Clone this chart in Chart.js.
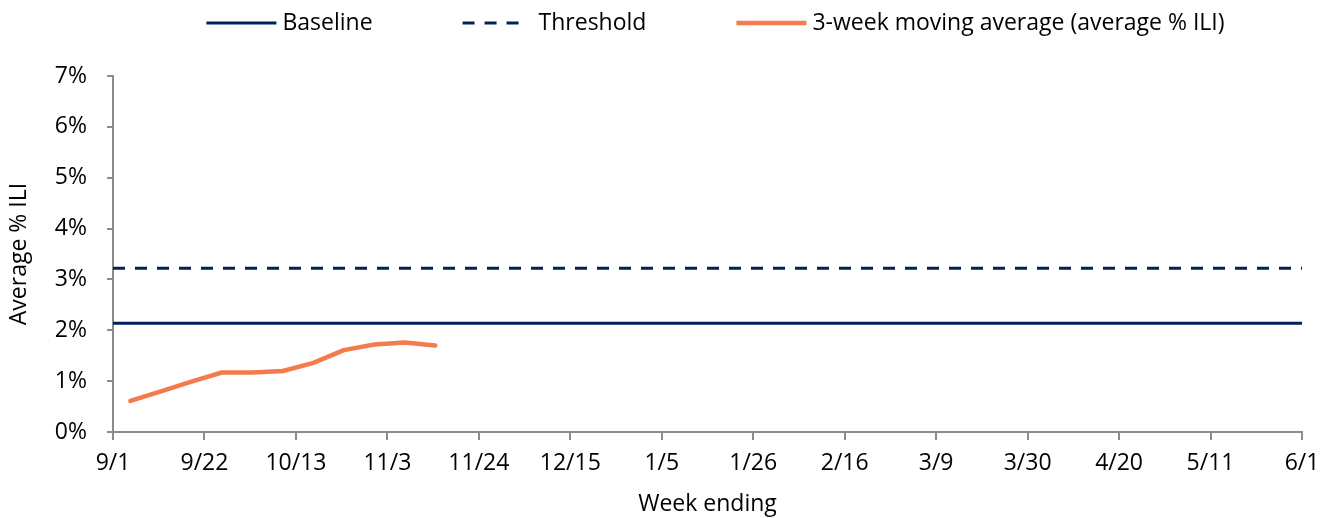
<!DOCTYPE html>
<html>
<head>
<meta charset="utf-8">
<script src="https://cdn.jsdelivr.net/npm/chart.js@4.4.1/dist/chart.umd.min.js"></script>
<style>
  html, body { margin: 0; padding: 0; background: #fff; }
  #wrap { width: 1333px; height: 518px; position: relative; }
</style>
</head>
<body>
<div id="wrap"><canvas id="iliChart"></canvas></div>
<script>
// x-axis tick labels, every 3 weeks from 9/1
const tickLabels = ['9/1', '9/22', '10/13', '11/3', '11/24', '12/15', '1/5',
  '1/26', '2/16', '3/9', '3/30', '4/20', '5/11', '6/1'];

// weekly points for the moving average
const weekEnding = ['9/5', '9/12', '9/19', '9/26', '10/3', '10/10', '10/17',
  '10/24', '10/31', '11/7', '11/14'];
const movingAvg = [0.61, 0.80, 0.99, 1.17, 1.17, 1.20, 1.36, 1.61, 1.72, 1.76, 1.70];

const baseline = 2.14;
const threshold = 3.22;

const NAVY = '#002060';
const ORANGE = '#F47B4B';
const AXIS = '#8c8c8c';
const FONT = 'Open Sans';
const FSIZE = 23;

// days since 9/1 (season runs Sep -> Jun)
const monthStart = { 9: 0, 10: 30, 11: 61, 12: 91, 1: 122, 2: 153, 3: 181, 4: 212, 5: 242, 6: 273 };
function dayOffset(md) {
  const [m, d] = md.split('/').map(Number);
  return monthStart[m] + d - 1;
}

const xMax = dayOffset(tickLabels[tickLabels.length - 1]);

// simple legend drawn across the top: line sample + label
const topLegend = {
  id: 'topLegend',
  afterDraw(chart) {
    const ctx = chart.ctx;
    const lineLen = 70, gap = 6, space = 90;
    ctx.save();
    ctx.font = `${FSIZE}px "${FONT}"`;
    ctx.textBaseline = 'middle';
    const items = chart.data.datasets.map(ds => ({
      text: ds.label,
      color: ds.borderColor,
      width: ds.borderWidth,
      dash: ds.borderDash || [],
      w: ctx.measureText(ds.label).width
    }));
    let total = 0;
    items.forEach((it, i) => { total += lineLen + gap + it.w + (i ? space : 0); });
    const area = chart.chartArea;
    let x = (area.left + area.right) / 2 + 8 - total / 2;
    const y = 23;
    items.forEach(it => {
      ctx.strokeStyle = it.color;
      ctx.lineWidth = it.width;
      ctx.setLineDash(it.dash);
      ctx.beginPath();
      ctx.moveTo(x, y);
      ctx.lineTo(x + (it.dash.length ? 56 : lineLen), y);
      ctx.stroke();
      ctx.setLineDash([]);
      ctx.fillStyle = '#000';
      ctx.fillText(it.text, x + lineLen + gap, y);
      x += lineLen + gap + it.w + space;
    });
    ctx.restore();
  }
};

document.addEventListener("DOMContentLoaded", () => {
  const ctx = document.getElementById("iliChart").getContext("2d");
  const pad = { left: 4, right: 31, top: 76, bottom: 0 };

  new Chart(ctx, {
    type: 'line',
    data: {
      datasets: [
        {
          label: 'Baseline',
          data: [{ x: 0, y: baseline }, { x: xMax, y: baseline }],
          borderColor: NAVY,
          borderWidth: 3,
          pointRadius: 0
        },
        {
          label: 'Threshold',
          data: [{ x: 0, y: threshold }, { x: xMax, y: threshold }],
          borderColor: NAVY,
          borderWidth: 3,
          borderDash: [12, 10],
          pointRadius: 0
        },
        {
          label: '3-week moving average (average % ILI)',
          data: weekEnding.map((d, i) => ({ x: dayOffset(d), y: movingAvg[i] })),
          borderColor: ORANGE,
          borderWidth: 4.5,
          borderCapStyle: 'round',
          borderJoinStyle: 'round',
          pointRadius: 0
        }
      ]
    },
    plugins: [topLegend],
    options: {
      responsive: true,
      maintainAspectRatio: false,
      animation: false,
      layout: { padding: pad },
      plugins: {
        legend: { display: false },
        tooltip: { enabled: false }
      },
      scales: {
        x: {
          type: 'linear',
          min: 0,
          max: xMax,
          afterFit: (s) => { s.height = 518 - 432 - pad.bottom; },
          border: { color: AXIS, width: 2 },
          grid: { drawOnChartArea: false, color: AXIS, tickLength: 8, lineWidth: 2 },
          ticks: {
            stepSize: 21,
            color: '#000',
            padding: 10,
            maxRotation: 0,
            font: { family: FONT, size: FSIZE },
            callback: (v) => tickLabels[Math.round(v / 21)]
          },
          title: {
            display: true,
            text: 'Week ending',
            color: '#000',
            padding: { top: 4, bottom: 0 },
            font: { family: FONT, size: FSIZE }
          }
        },
        y: {
          min: 0,
          max: 7,
          afterFit: (s) => { s.width = 113 - pad.left; },
          border: { color: AXIS, width: 2 },
          grid: { drawOnChartArea: false, color: AXIS, tickLength: 6, lineWidth: 2 },
          ticks: {
            stepSize: 1,
            color: '#000',
            padding: 20,
            font: { family: FONT, size: FSIZE },
            callback: (v) => v + '%'
          },
          title: {
            display: true,
            text: 'Average % ILI',
            color: '#000',
            padding: { top: 2, bottom: 0 },
            font: { family: FONT, size: FSIZE }
          }
        }
      }
    }
  });
});
</script>
</body>
</html>
